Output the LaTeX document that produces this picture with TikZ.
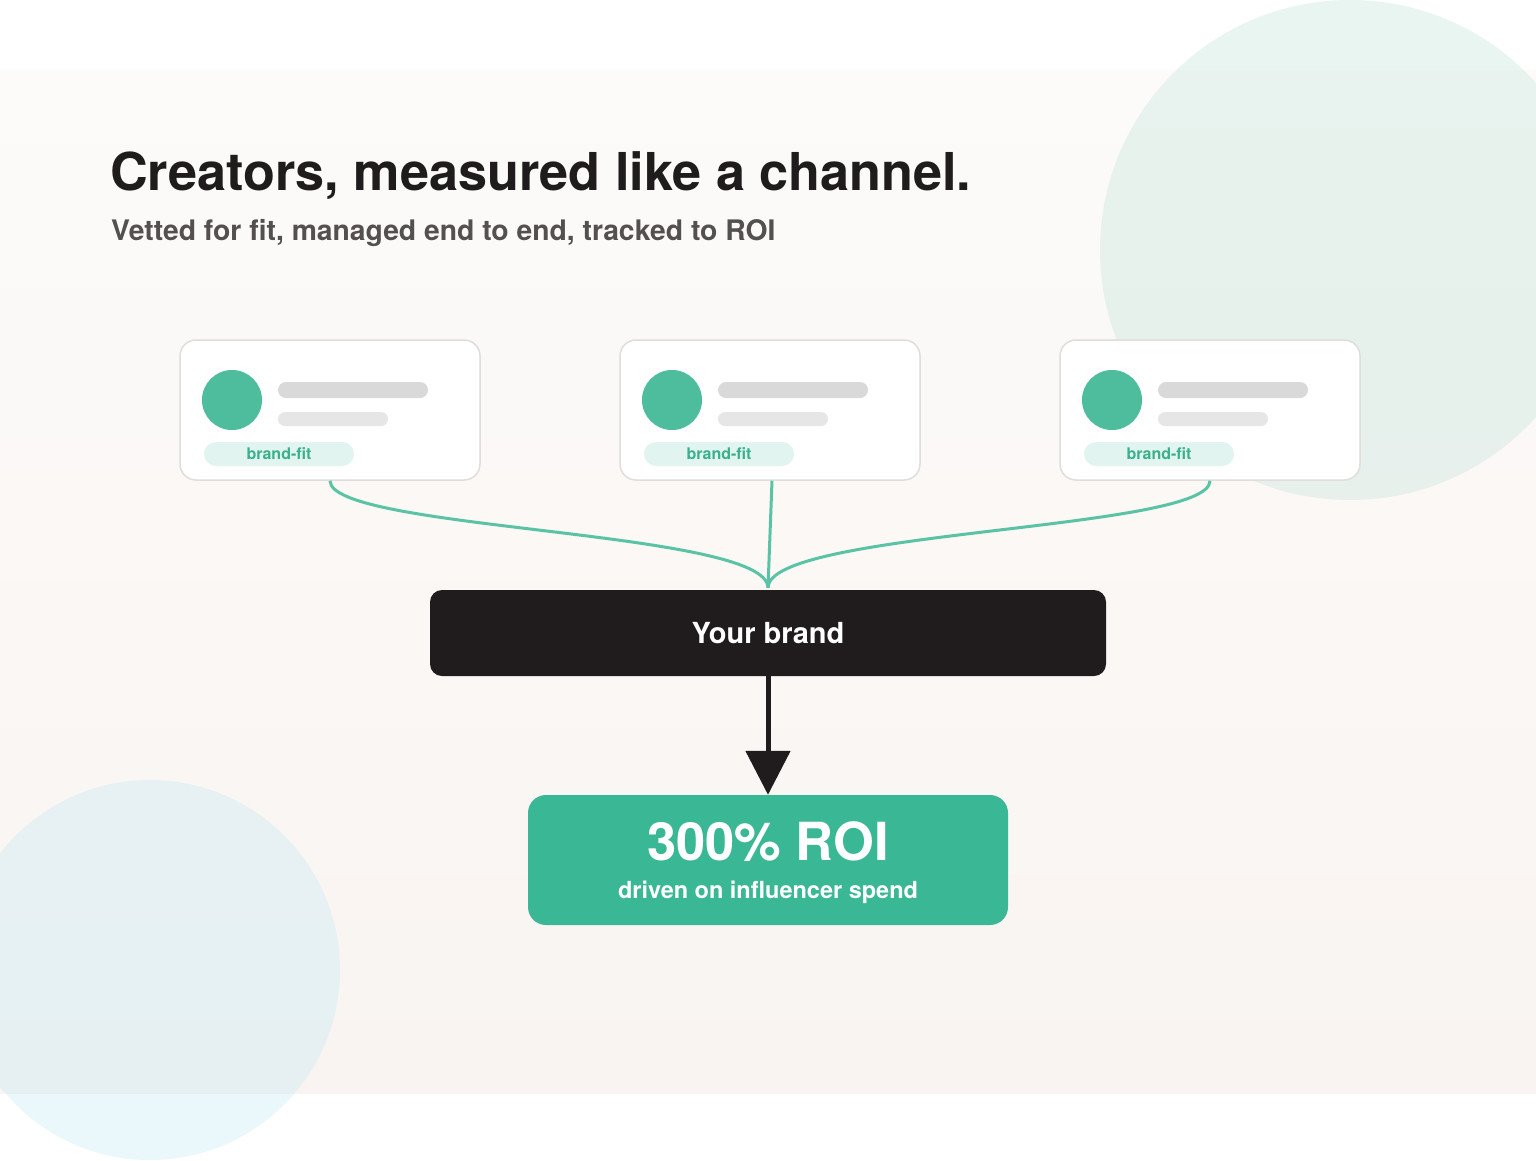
\documentclass[tikz,border=0pt]{standalone}
\usepackage{fontspec}
\setmainfont{TeX Gyre Heros}
\usetikzlibrary{arrows.meta,calc}
\definecolor{ink}{HTML}{201C1D}
\definecolor{subgray}{HTML}{555050}
\definecolor{paneltop}{HTML}{FCFBFA}
\definecolor{panelbot}{HTML}{F9F4F1}
\definecolor{blobgreen}{RGB}{202,230,220}
\definecolor{blobblue}{RGB}{197,234,246}
\definecolor{cardborder}{HTML}{E0DDDB}
\definecolor{avatargreen}{HTML}{4DBD9E}
\definecolor{barone}{HTML}{D9D9D9}
\definecolor{bartwo}{HTML}{E6E6E6}
\definecolor{pillfill}{HTML}{E2F4EF}
\definecolor{pilltext}{HTML}{3AB08D}
\definecolor{linkgreen}{HTML}{5BC3A5}
\definecolor{roigreen}{HTML}{3AB794}
\tikzset{
  card/.style={draw=cardborder, line width=1.5pt, fill=white, rounded corners=16pt,
    minimum width=300pt, minimum height=140pt, inner sep=0pt},
  avatar/.style={circle, fill=avatargreen, minimum size=60pt, inner sep=0pt},
  barA/.style={fill=barone, rounded corners=8pt, minimum width=150pt, minimum height=16pt, inner sep=0pt},
  barB/.style={fill=bartwo, rounded corners=7pt, minimum width=110pt, minimum height=14pt, inner sep=0pt},
  pill/.style={fill=pillfill, rounded corners=12pt, minimum width=150pt, minimum height=24pt, inner sep=0pt,
    text=pilltext, font=\fontsize{16}{18}\selectfont\bfseries},
  link/.style={draw=linkgreen, line width=3pt},
  brandbox/.style={fill=ink, rounded corners=12pt, minimum width=676pt, minimum height=86pt, inner sep=0pt,
    text=white, font=\fontsize{29}{32}\selectfont\bfseries},
  roibox/.style={fill=roigreen, rounded corners=18pt, minimum width=480pt, minimum height=130pt, inner sep=0pt},
  flow/.style={draw=ink, line width=5pt, -{Triangle[width=44pt,length=44pt]}}
}
\begin{document}
\begin{tikzpicture}[x=1pt,y=-1pt]
\useasboundingbox (0,0) rectangle (1536,1160);
\clip (0,0) rectangle (1536,1160);
% background
\fill[white] (0,0) rectangle (1536,1160);
\shade[top color=paneltop, bottom color=panelbot] (0,70) rectangle (1536,1093);
\fill[blobgreen, opacity=0.4] (1350,250) circle (250);
\fill[blobblue, opacity=0.35] (150,970) circle (190);
% title
\node[anchor=base west, inner sep=0pt, text=ink, font=\fontsize{52.2}{60}\selectfont\bfseries] (title) at (110,190) {Creators, measured like a channel.};
\node[anchor=base west, inner sep=0pt, text=subgray, font=\fontsize{28.3}{32}\selectfont\bfseries] (subtitle) at (111,240) {Vetted for fit, managed end to end, tracked to ROI};
% cards
\foreach \i/\x in {1/180,2/620,3/1060}{
  \node[card] (c\i) at (\x+150,410) {};
  \node[avatar] (a\i) at (\x+52,400) {};
  \node[barA] (b\i) at (\x+173,390) {};
  \node[barB] (d\i) at (\x+153,419) {};
  \node[pill] (p\i) at (\x+99,454) {brand-fit};
}
% brand and result
\node[brandbox] (brand) at (768,633) {Your brand};
\node[roibox] (roi) at (768,860) {};
\node[anchor=base, inner sep=0pt, text=white, font=\fontsize{52.5}{60}\selectfont\bfseries] (roibig) at (768,860) {300\% ROI};
\node[anchor=base, inner sep=0pt, text=white, font=\fontsize{23.5}{26}\selectfont\bfseries] (roismall) at (768,898) {driven on influencer spend};
% connectors
\coordinate (join) at ($(brand.north)+(0,-2)$);
\draw[link] (c1.south) .. controls +(0,50) and ($(join)+(0,-58)$) .. (join);
\draw[link] (c3.south) .. controls +(0,50) and ($(join)+(0,-58)$) .. (join);
\draw[link] ($(c2.south)+(2,0)$) -- (join);
\draw[flow] (brand.south) -- (roi.north);
\end{tikzpicture}
\end{document}
